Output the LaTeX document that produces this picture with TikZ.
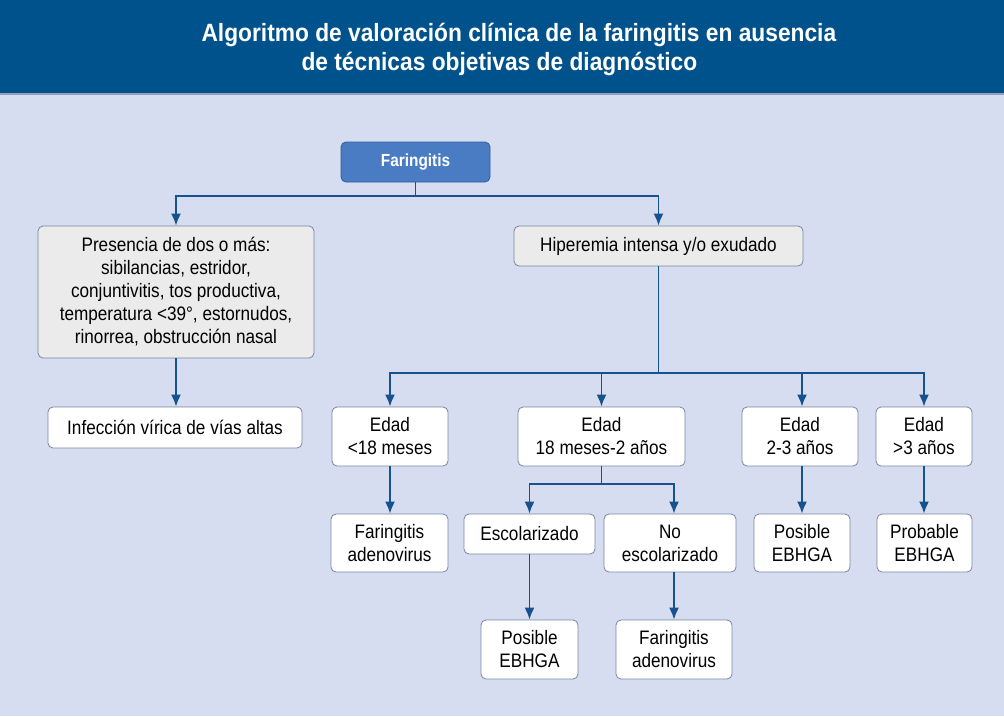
\documentclass[tikz,border=0pt]{standalone}
\usepackage{fontspec}
\setmainfont[FakeStretch=0.88]{Liberation Sans}
\newfontfamily\titlefont[FakeStretch=0.91]{Liberation Sans}
\usetikzlibrary{arrows.meta,calc}
\definecolor{hdr}{RGB}{0,82,140}
\definecolor{bg}{RGB}{214,221,240}
\definecolor{bord}{RGB}{120,134,160}
\definecolor{grey}{RGB}{235,235,235}
\definecolor{arrc}{RGB}{22,82,142}
\definecolor{farfill}{RGB}{74,124,196}
\definecolor{farbord}{RGB}{50,90,160}
\begin{document}
\begin{tikzpicture}[x=1pt,y=-1pt,
  box/.style={draw=bord, rounded corners=5pt, line width=0.8pt, align=center, inner sep=0pt,
    font=\fontsize{19.5}{23}\selectfont},
  gbox/.style={box, fill=grey},
  wbox/.style={box, fill=white},
  conn/.style={draw=arrc, line width=1.8pt},
  arr/.style={conn, -{Latex[length=12pt,width=10pt]}},
  ttl/.style={text=white, font=\titlefont\bfseries\fontsize{25}{29}\selectfont, anchor=west}]
\useasboundingbox (0,0) rectangle (1004,716);
\fill[bg] (0,0) rectangle (1004,716);
\fill[hdr] (0,0) rectangle (1004,93);
\draw[bord!70!bg, line width=1.5pt] (0,94) -- (1004,94);
\node[ttl] (t1) at (198,35) {Algoritmo de valoración clínica de la faringitis en ausencia};
\node[ttl] (t2) at (298,64) {de técnicas objetivas de diagnóstico};

\node[box, fill=farfill, draw=farbord, text=white, font=\bfseries\fontsize{17.5}{23}\selectfont, minimum width=149pt, minimum height=40pt] (far) at (415.5,162) {Faringitis};
\node[gbox, minimum width=276pt, minimum height=132pt] (pres) at (176,292) {Presencia de dos o más:\\sibilancias, estridor,\\conjuntivitis, tos productiva,\\temperatura <39°, estornudos,\\rinorrea, obstrucción nasal};
\node[gbox, minimum width=289pt, minimum height=40pt] (hip) at (658.5,246) {Hiperemia intensa y/o exudado};
\node[wbox, minimum width=254pt, minimum height=41pt] (inf) at (175,427.5) {Infección vírica de vías altas};
\node[wbox, minimum width=116pt, minimum height=59pt] (e18) at (390,436.5) {Edad\\<18 meses};
\node[wbox, minimum width=167pt, minimum height=59pt] (e182) at (601.5,436.5) {Edad\\18 meses-2 años};
\node[wbox, minimum width=116pt, minimum height=59pt] (e23) at (800,436.5) {Edad\\2-3 años};
\node[wbox, minimum width=96pt, minimum height=59pt] (e3) at (924,436.5) {Edad\\>3 años};
\node[wbox, minimum width=117pt, minimum height=58pt] (fa1) at (389.5,543) {Faringitis\\adenovirus};
\node[wbox, minimum width=96pt, minimum height=58pt] (pe1) at (802,543) {Posible\\EBHGA};
\node[wbox, minimum width=95pt, minimum height=58pt] (pr) at (924.5,543) {Probable\\EBHGA};
\node[wbox, minimum width=131pt, minimum height=40pt] (esc) at (529.5,534) {Escolarizado};
\node[wbox, minimum width=132pt, minimum height=58pt] (noesc) at (670,543) {No\\escolarizado};
\node[wbox, minimum width=97pt, minimum height=59pt] (pe2) at (529.5,649.5) {Posible\\EBHGA};
\node[wbox, minimum width=116pt, minimum height=59pt] (fa2) at (674,649.5) {Faringitis\\adenovirus};

\coordinate (j1) at (415.5,196);
\coordinate (j2) at (658.5,373);
\coordinate (j3) at (601.5,484);
\draw[conn] (far.south) -- (j1);
\draw[arr] (j1) -| (pres.north);
\draw[arr] (j1) -| (hip.north);
\draw[arr] (pres.south) -- (pres.south |- inf.north);
\draw[conn] (hip.south) -- (j2);
\draw[arr] (j2) -| (e18.north);
\draw[arr] (j2) -| (e182.north);
\draw[arr] (j2) -| (e23.north -| pe1.north);
\draw[arr] (j2) -| (e3.north);
\draw[arr] (e18.south) -- (e18.south |- fa1.north);
\draw[arr] (e23.south -| pe1.north) -- (pe1.north);
\draw[arr] (e3.south) -- (e3.south |- pr.north);
\draw[conn] (e182.south) -- (j3);
\draw[arr] (j3) -| (esc.north);
\draw[arr] (j3) -| (noesc.north -| fa2.north);
\draw[arr] (esc.south) -- (pe2.north);
\draw[arr] (noesc.south -| fa2.north) -- (fa2.north);
\end{tikzpicture}
\end{document}
